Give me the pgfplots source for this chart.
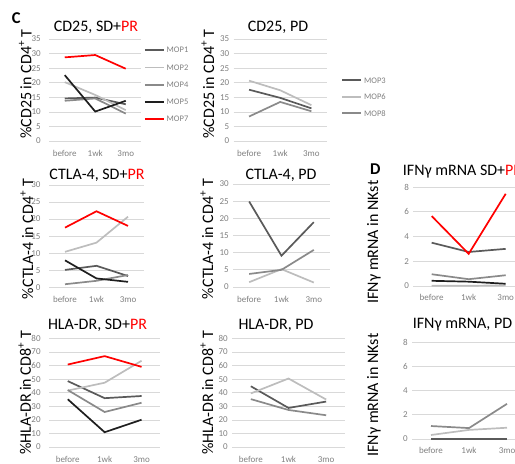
\documentclass[border=0pt]{standalone}
\usepackage{fontspec}
\setmainfont{Carlito}
\usepackage{pgfplots}
\pgfplotsset{compat=1.18}
\definecolor{cdark}{HTML}{5A5A5A}
\definecolor{clight}{HTML}{BDBDBD}
\definecolor{cmed}{HTML}{8A8A8A}
\definecolor{cblack}{HTML}{1E1E1E}
\definecolor{cred}{HTML}{FF0000}
\definecolor{cgrid}{HTML}{D9D9D9}
\definecolor{ctick}{HTML}{808080}
\pgfplotsset{
  panel/.style={
    scale only axis, anchor=south west, clip=false,
    xmin=-0.5, xmax=2.5, ymin=0,
    xtick={0,1,2}, xticklabels={before,1wk,3mo},
    axis line style={draw=none},
    major tick length=0pt,
    ymajorgrids, grid style={cgrid, line width=0.7pt},
    /pgf/number format/assume math mode=true,
    tick label style={font=\fontsize{9}{10}\selectfont, text=ctick, inner sep=0pt},
    xticklabel style={anchor=base, yshift=-15.5pt},
    every axis plot/.append style={line width=1.7pt, mark=none},
    legend image code/.code={\draw[##1] (0pt,0pt) -- (19pt,0pt);},
    legend style={draw=none, fill=none, anchor=north west, inner sep=0pt, outer sep=0pt,
      font=\fontsize{8.5}{9}\selectfont, text=ctick, row sep=11.75pt,
      nodes={inner sep=0pt, text height=5.5pt, text depth=0pt},
      /tikz/every odd column/.append style={column sep=2pt}},
    legend cell align=left,
  },
  leftcol/.style={yticklabel style={anchor=east, xshift=-8.5pt}},
  midcol/.style={yticklabel style={anchor=east, xshift=-4pt}},
}
\newcommand{\tfont}{\fontsize{16}{19}\selectfont}
\begin{document}
\begin{tikzpicture}
\useasboundingbox (0pt,0pt) rectangle (515pt,464pt);
\clip (0pt,0pt) rectangle (515pt,464pt);

% ---------- Row 1: CD25 ----------
\begin{axis}[panel, leftcol, at={(49.5pt,323pt)}, width=91.5pt, height=102pt,
  ymax=35, ytick={0,5,...,35},
  legend style={at={(rel axis cs:1.033,0.917)}}]
\addplot[cdark]  coordinates {(0,14.6) (1,14.9) (2,12.6)};
\addplot[clight] coordinates {(0,20.2) (1,15.8) (2,10.6)};
\addplot[cmed]   coordinates {(0,13.8) (1,14.6) (2,9.4)};
\addplot[cblack] coordinates {(0,22.6) (1,10.1) (2,13.8)};
\addplot[cred]   coordinates {(0,28.7) (1,29.5) (2,24.8)};
\legend{MOP1,MOP2,MOP4,MOP5,MOP7}
\end{axis}

\begin{axis}[panel, midcol, at={(233.5pt,323pt)}, width=93.5pt, height=102pt,
  ymax=35, ytick={0,5,...,35}, legend style={row sep=11pt},
  legend style={at={(rel axis cs:1.155,0.6225)}}]
\addplot[cdark]  coordinates {(0,17.6) (1,14.8) (2,11.2)};
\addplot[clight] coordinates {(0,20.7) (1,17.4) (2,12.3)};
\addplot[cmed]   coordinates {(0,8.4) (1,13.4) (2,10.2)};
\legend{MOP3,MOP6,MOP8}
\end{axis}

% ---------- Row 2: CTLA-4 ----------
\begin{axis}[panel, leftcol, at={(49.25pt,176.7pt)}, width=94.5pt, height=102.3pt,
  ymax=30, ytick={0,5,...,30}]
\addplot[cdark]  coordinates {(0,5.1) (1,6.3) (2,3.3)};
\addplot[clight] coordinates {(0,10.4) (1,13.1) (2,20.7)};
\addplot[cmed]   coordinates {(0,0.9) (1,1.9) (2,3.6)};
\addplot[cblack] coordinates {(0,7.9) (1,2.6) (2,1.6)};
\addplot[cred]   coordinates {(0,17.5) (1,22.3) (2,18.0)};
\end{axis}

\begin{axis}[panel, midcol, at={(233pt,177pt)}, width=97pt, height=103pt,
  ymax=30, ytick={0,5,...,30}]
\addplot[cdark]  coordinates {(0,24.9) (1,9.1) (2,18.9)};
\addplot[clight] coordinates {(0,1.4) (1,5.2) (2,1.3)};
\addplot[cmed]   coordinates {(0,3.8) (1,5.0) (2,10.8)};
\end{axis}

% ---------- Row 3: HLA-DR ----------
\begin{axis}[panel, leftcol, at={(49.3pt,17pt)}, width=110.7pt, height=108.5pt,
  ymax=80, ytick={0,10,...,80}]
\addplot[cdark]  coordinates {(0,48.6) (1,36.0) (2,37.6)};
\addplot[clight] coordinates {(0,41.6) (1,47.4) (2,63.6)};
\addplot[cmed]   coordinates {(0,42.0) (1,25.8) (2,32.6)};
\addplot[cblack] coordinates {(0,35.2) (1,10.9) (2,20.1)};
\addplot[cred]   coordinates {(0,60.8) (1,67.0) (2,59.1)};
\end{axis}

\begin{axis}[panel, midcol, at={(232pt,17pt)}, width=113pt, height=108.5pt,
  ymax=80, ytick={0,10,...,80}]
\addplot[cdark]  coordinates {(0,44.8) (1,28.8) (2,33.5)};
\addplot[clight] coordinates {(0,39.5) (1,50.5) (2,35.0)};
\addplot[cmed]   coordinates {(0,35.3) (1,27.3) (2,23.4)};
\end{axis}

% ---------- Right column: IFN-gamma mRNA ----------
\begin{axis}[panel, midcol, at={(413.2pt,178pt)}, width=111pt, height=99pt,
  ymax=8, ytick={0,2,...,8}, xticklabel style={yshift=1pt}]
\addplot[cdark]  coordinates {(0,3.5) (1,2.75) (2,3.0)};
\addplot[clight] coordinates {(0,0.02) (1,0.02) (2,0.05)};
\addplot[cmed]   coordinates {(0,0.95) (1,0.55) (2,0.87)};
\addplot[cblack] coordinates {(0,0.42) (1,0.35) (2,0.18)};
\addplot[cred]   coordinates {(0,5.65) (1,2.6) (2,7.45)};
\end{axis}

\begin{axis}[panel, midcol, at={(412pt,25pt)}, width=114pt, height=97pt,
  ymax=8, ytick={0,2,...,8}, xticklabel style={yshift=1pt}]
\addplot[cdark]  coordinates {(0,0) (1,0) (2,0)};
\addplot[clight] coordinates {(0,0.33) (1,0.75) (2,0.93)};
\addplot[cmed]   coordinates {(0,1.07) (1,0.9) (2,2.9)};
\end{axis}

% ---------- Titles ----------
\node[anchor=base, font=\tfont] at (96pt,432.3pt) {CD25, SD+\textcolor{cred}{PR}};
\node[anchor=base, font=\tfont] at (278pt,432.3pt) {CD25, PD};
\node[anchor=base, font=\tfont] at (97pt,284.7pt) {CTLA-4, SD+\textcolor{cred}{PR}};
\node[anchor=base, font=\tfont] at (281pt,284.7pt) {CTLA-4, PD};
\node[anchor=base, font=\tfont] at (97.5pt,134pt) {HLA-DR, SD+\textcolor{cred}{PR}};
\node[anchor=base, font=\tfont] at (276pt,134pt) {HLA-DR, PD};
\node[anchor=base west, inner sep=0pt, font=\tfont] at (402.7pt,288pt) {IFNγ mRNA SD+\textcolor{cred}{PR}};
\node[anchor=base, font=\tfont] at (462.5pt,135.7pt) {IFNγ mRNA, PD};

% ---------- Y labels ----------
\node[rotate=90, anchor=base, font=\tfont] at (31.5pt,380pt) {\%CD25 in CD4\textsuperscript{+} T};
\node[rotate=90, anchor=base, font=\tfont] at (214pt,380pt) {\%CD25 in CD4\textsuperscript{+} T};
\node[rotate=90, anchor=base, font=\tfont] at (33pt,225pt) {\%CTLA-4 in CD4\textsuperscript{+} T};
\node[rotate=90, anchor=base, font=\tfont] at (213pt,225pt) {\%CTLA-4 in CD4\textsuperscript{+} T};
\node[rotate=90, anchor=base, font=\tfont] at (31pt,71pt) {\%HLA-DR in CD8\textsuperscript{+} T};
\node[rotate=90, anchor=base, font=\tfont] at (213pt,71pt) {\%HLA-DR in CD8\textsuperscript{+} T};
\node[rotate=90, anchor=base, font=\tfont] at (378pt,222pt) {IFNγ mRNA in NKst};
\node[rotate=90, anchor=base, font=\tfont] at (378pt,69pt) {IFNγ mRNA in NKst};

% ---------- Panel letters ----------
\node[anchor=base west, inner sep=0pt, font=\fontsize{16.5}{19}\selectfont\bfseries] at (11.7pt,440.7pt) {C};
\node[anchor=base west, inner sep=0pt, font=\fontsize{16.5}{19}\selectfont\bfseries] at (370pt,289pt) {D};
\end{tikzpicture}
\end{document}
